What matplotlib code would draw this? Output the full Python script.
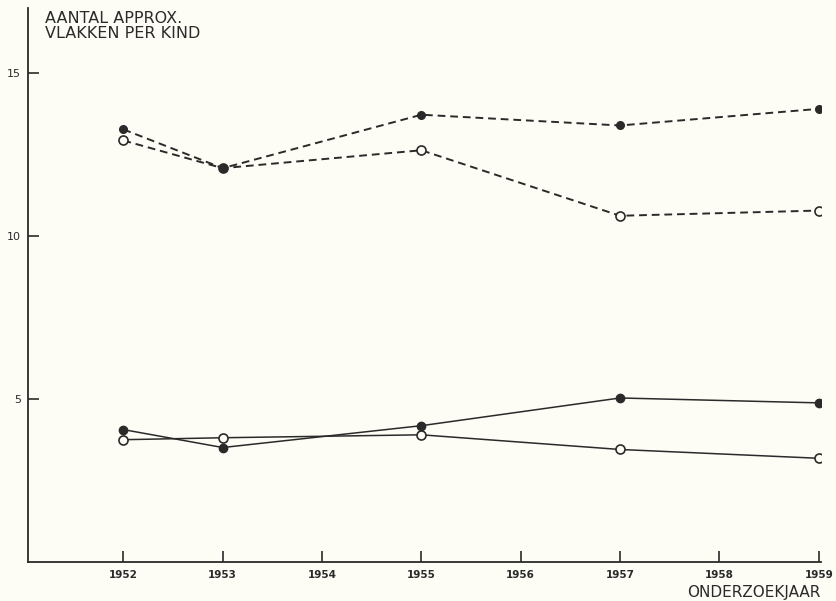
import matplotlib.pyplot as plt
import numpy as np

jaren = [1952, 1953, 1955, 1957, 1959]
gestippeld_vol = [13.27, 12.08, 13.72, 13.39, 13.90]
gestippeld_open = [12.93, 12.08, 12.63, 10.62, 10.78]
lijn_vol = [4.06, 3.51, 4.18, 5.03, 4.88]
lijn_open = [3.75, 3.81, 3.90, 3.45, 3.18]

x_ticks = [1952, 1953, 1954, 1955, 1956, 1957, 1958, 1959]
y_ticks = [5, 10, 15]

bg = '#fdfdf6'
ink = '#2a2a2a'

fig = plt.figure(figsize=(8.37, 6.01), dpi=100, facecolor=bg)
ax = fig.add_axes([0.0335, 0.065, 0.947, 0.922], facecolor=bg)

# open markers eerst, gevulde er bovenop
ax.plot(jaren, gestippeld_open, ls=(0, (4, 2.5)), color=ink, lw=1.4,
        marker='o', ms=6.5, mfc=bg, mec=ink, mew=1.2, zorder=2)
ax.plot(jaren, gestippeld_vol, ls=(0, (4, 2.5)), color=ink, lw=1.4,
        marker='o', ms=5.5, mfc=ink, mec=ink, zorder=3)
ax.plot(jaren, lijn_open, ls='-', color=ink, lw=1.1,
        marker='o', ms=6.5, mfc=bg, mec=ink, mew=1.2, zorder=2)
ax.plot(jaren, lijn_vol, ls='-', color=ink, lw=1.1,
        marker='o', ms=6, mfc=ink, mec=ink, zorder=3)

ax.set_xlim(1951.04, 1959.02)
ax.set_ylim(0, 17)
ax.spines['top'].set_visible(False)
ax.spines['right'].set_visible(False)
for s in ['left', 'bottom']:
    ax.spines[s].set_color(ink)
    ax.spines[s].set_linewidth(1.3)

ax.set_xticks(x_ticks)
ax.set_yticks(y_ticks)
ax.set_xticklabels([str(j) for j in x_ticks], fontsize=7.5, fontweight='bold', color=ink)
ax.set_yticklabels([str(v) for v in y_ticks], fontsize=8, color=ink)
ax.tick_params(axis='both', direction='in', length=8, width=1.2, color=ink)
ax.tick_params(axis='x', pad=6)
ax.tick_params(axis='y', pad=5)

fig.text(0.054, 0.982, 'AANTAL APPROX.\nVLAKKEN PER KIND', ha='left', va='top',
         fontsize=11.5, color=ink, linespacing=1.0)
fig.text(0.98, 0.007, 'ONDERZOEKJAAR', ha='right', va='baseline',
         fontsize=11, color=ink)

fig.savefig('out.png', dpi=100, facecolor=bg)
